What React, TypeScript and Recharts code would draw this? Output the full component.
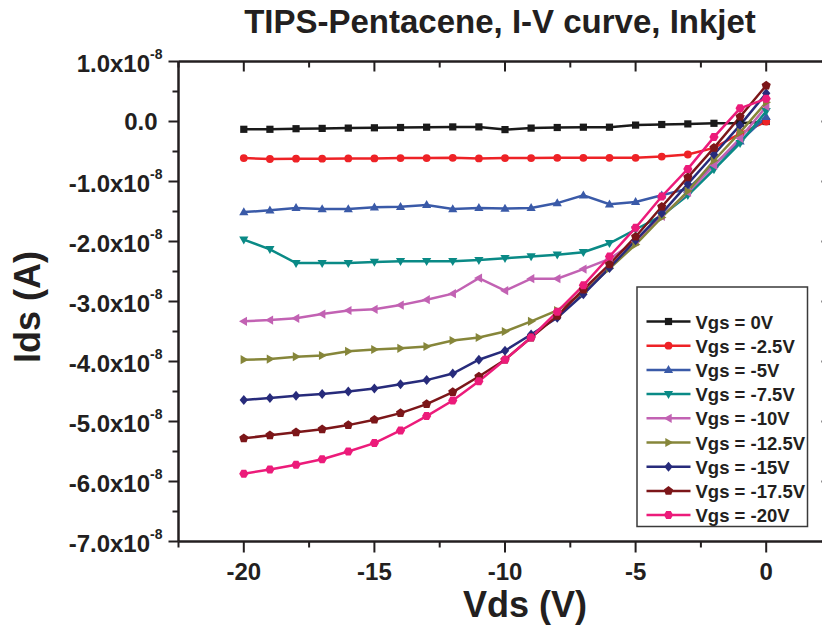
import { LineChart, Line, XAxis, YAxis, Legend, ReferenceLine } from "recharts";

// Vds sweep (V)
const vdsValues = [-20, -19, -18, -17, -16, -15, -14, -13, -12, -11, -10, -9, -8, -7, -6, -5, -4, -3, -2, -1, 0];

// Ids in units of 1e-8 A, one list per gate voltage
const ids0V = [-0.13, -0.13, -0.12, -0.115, -0.11, -0.105, -0.1, -0.095, -0.09, -0.09, -0.135, -0.11, -0.1, -0.095, -0.095, -0.06, -0.05, -0.04, -0.03, -0.03, 0.0];
const ids2p5V = [-0.61, -0.625, -0.62, -0.62, -0.615, -0.615, -0.61, -0.61, -0.605, -0.615, -0.61, -0.61, -0.605, -0.605, -0.605, -0.605, -0.585, -0.55, -0.44, -0.2, 0.0];
const ids5V = [-1.51, -1.48, -1.44, -1.46, -1.46, -1.43, -1.42, -1.39, -1.46, -1.44, -1.45, -1.44, -1.36, -1.23, -1.38, -1.34, -1.23, -1.12, -0.72, -0.33, 0.08];
const ids7p5V = [-1.97, -2.13, -2.36, -2.36, -2.36, -2.34, -2.33, -2.33, -2.33, -2.31, -2.28, -2.25, -2.22, -2.18, -2.03, -1.8, -1.57, -1.23, -0.8, -0.36, 0.17];
const ids10V = [-3.33, -3.31, -3.28, -3.21, -3.15, -3.13, -3.06, -2.97, -2.87, -2.61, -2.82, -2.62, -2.62, -2.46, -2.29, -2.0, -1.58, -1.18, -0.73, -0.28, 0.25];
const ids12p5V = [-3.97, -3.96, -3.92, -3.9, -3.83, -3.8, -3.78, -3.75, -3.65, -3.6, -3.5, -3.33, -3.15, -2.85, -2.45, -2.05, -1.6, -1.16, -0.65, -0.18, 0.32];
const ids15V = [-4.64, -4.61, -4.57, -4.54, -4.5, -4.45, -4.38, -4.31, -4.2, -3.97, -3.82, -3.55, -3.27, -2.88, -2.44, -1.98, -1.53, -1.04, -0.55, -0.06, 0.47];
const ids17p5V = [-5.28, -5.23, -5.18, -5.13, -5.06, -4.97, -4.86, -4.71, -4.51, -4.25, -3.97, -3.6, -3.24, -2.8, -2.38, -1.92, -1.42, -0.93, -0.44, 0.08, 0.6];
const ids20V = [-5.87, -5.8, -5.72, -5.63, -5.5, -5.36, -5.15, -4.91, -4.65, -4.33, -3.97, -3.6, -3.17, -2.73, -2.25, -1.77, -1.25, -0.79, -0.26, 0.22, 0.38];

const seriesNames = ["Vgs = 0V", "Vgs = -2.5V", "Vgs = -5V", "Vgs = -7.5V", "Vgs = -10V", "Vgs = -12.5V", "Vgs = -15V", "Vgs = -17.5V", "Vgs = -20V"];
const seriesValues = [ids0V, ids2p5V, ids5V, ids7p5V, ids10V, ids12p5V, ids15V, ids17p5V, ids20V];

const xTicks = [-22.5, -20, -17.5, -15, -12.5, -10, -7.5, -5, -2.5, 0, 2.5];
const yTicks = [-7, -6.5, -6, -5.5, -5, -4.5, -4, -3.5, -3, -2.5, -2, -1.5, -1, -0.5, 0, 0.5, 1];

const title = "TIPS-Pentacene, I-V curve, Inkjet";
const xTitle = "Vds (V)";
const yTitle = "Ids (A)";

// styling
const colors = ["#1a1a1a", "#ee2226", "#3a5aa8", "#0a8a86", "#c262b3", "#86863a", "#272b7b", "#7c1619", "#ec1b7a"];
const shapes = ["square", "circle", "up", "down", "left", "right", "diamond", "pentagon", "hexagon"];
const FONT = "'Liberation Sans', Arial, Helvetica, sans-serif";
const INK = "#231f20";
const CHART_W = 850;
const PLOT_TOP = 61.5;
const PLOT_RIGHT = 831.5;

const rows = vdsValues.map((v, i) => {
  const row: Record<string, number> = { vds: v };
  seriesValues.forEach((vals, s) => {
    row["s" + s] = vals[i];
  });
  return row;
});

function poly(cx: number, cy: number, r: number, n: number, start: number) {
  const pts: string[] = [];
  for (let k = 0; k < n; k++) {
    const a = start + (k * 2 * Math.PI) / n;
    pts.push(`${cx + r * Math.cos(a)},${cy + r * Math.sin(a)}`);
  }
  return pts.join(" ");
}

function Marker({ cx, cy, shape, color }: { cx: number; cy: number; shape: string; color: string }) {
  if (cx == null || cy == null) return null;
  switch (shape) {
    case "square":
      return <rect x={cx - 3.6} y={cy - 3.6} width={7.2} height={7.2} fill={color} />;
    case "circle":
      return <circle cx={cx} cy={cy} r={3.9} fill={color} />;
    case "up":
      return <polygon points={`${cx},${cy - 4.8} ${cx + 4.6},${cy + 3.2} ${cx - 4.6},${cy + 3.2}`} fill={color} />;
    case "down":
      return <polygon points={`${cx},${cy + 4.8} ${cx + 4.6},${cy - 3.2} ${cx - 4.6},${cy - 3.2}`} fill={color} />;
    case "left":
      return <polygon points={`${cx - 4.8},${cy} ${cx + 3.2},${cy - 4.6} ${cx + 3.2},${cy + 4.6}`} fill={color} />;
    case "right":
      return <polygon points={`${cx + 4.8},${cy} ${cx - 3.2},${cy - 4.6} ${cx - 3.2},${cy + 4.6}`} fill={color} />;
    case "diamond":
      return <polygon points={`${cx},${cy - 5} ${cx + 4.2},${cy} ${cx},${cy + 5} ${cx - 4.2},${cy}`} fill={color} />;
    case "pentagon":
      return <polygon points={poly(cx, cy, 4.8, 5, -Math.PI / 2)} fill={color} />;
    default:
      return <polygon points={poly(cx, cy, 4.6, 6, 0)} fill={color} />;
  }
}

const isMajorX = (v: number) => Math.abs(v % 5) < 1e-9;
const isMajorY = (v: number) => Math.abs(v % 1) < 1e-9;

// bottom ticks also mirror a short inward tick on the top frame
function BottomTick(props: any) {
  const { x, y, payload } = props;
  const v = payload.value;
  const major = isMajorX(v);
  return (
    <g>
      <line x1={x} x2={x} y1={y} y2={y + (major ? 11 : 6)} stroke={INK} strokeWidth={2} />
      <line x1={x} x2={x} y1={PLOT_TOP} y2={PLOT_TOP + (major ? 10 : 6)} stroke={INK} strokeWidth={2} />
      {major && (
        <text x={x} y={y + 38} textAnchor="middle" fontSize={24} fontWeight="bold" fontFamily={FONT} fill={INK}>
          {String(v)}
        </text>
      )}
    </g>
  );
}

// left ticks also mirror an inward tick on the right frame
function LeftTick(props: any) {
  const { x, y, payload } = props;
  const v = payload.value;
  const major = isMajorY(v);
  let label = null;
  if (major) {
    label =
      v === 0 ? (
        <text x={x - 21} y={y + 8} textAnchor="end" fontSize={24} fontWeight="bold" fontFamily={FONT} fill={INK}>
          0.0
        </text>
      ) : (
        <text x={x - 16} y={y + 10.5} textAnchor="end" fontSize={24} fontWeight="bold" fontFamily={FONT} fill={INK}>
          {v.toFixed(1) + "x10"}
          <tspan fontSize={14} dy={-13}>
            -8
          </tspan>
        </text>
      );
  }
  return (
    <g>
      <line x1={x} x2={x - (major ? 10 : 6)} y1={y} y2={y} stroke={INK} strokeWidth={2} />
      <line x1={PLOT_RIGHT} x2={PLOT_RIGHT - (major ? 10 : 6)} y1={y} y2={y} stroke={INK} strokeWidth={2} />
      {label}
    </g>
  );
}

function XTitleLabel() {
  return (
    <text x={525} y={617} textAnchor="middle" fontSize={36} fontWeight="bold" fontFamily={FONT} fill={INK}>
      {xTitle}
    </text>
  );
}

function YTitleLabel() {
  return (
    <text x={40} y={307} transform="rotate(-90 40 307)" textAnchor="middle" fontSize={36} fontWeight="bold" fontFamily={FONT} fill={INK}>
      {yTitle}
    </text>
  );
}

function LegendBox() {
  const rowH = 24.2;
  return (
    <svg width={173} height={242} style={{ display: "block" }}>
      <rect x={1} y={1} width={170.5} height={239.5} fill="#fff" stroke="#3a3a3a" strokeWidth={1.5} />
      {seriesNames.map((name, i) => {
        const cy = 35.5 + i * rowH;
        return (
          <g key={name}>
            <line x1={10.5} x2={54.5} y1={cy} y2={cy} stroke={colors[i]} strokeWidth={2.5} />
            <Marker cx={32.5} cy={cy} shape={shapes[i]} color={colors[i]} />
            <text x={59.5} y={cy + 7} fontSize={18.5} fontWeight="bold" fontFamily={FONT} fill={INK}>
              {name}
            </text>
          </g>
        );
      })}
    </svg>
  );
}

export default function App() {
  return (
    <div style={{ position: "absolute", left: 0, top: 0, width: 822, height: 631, overflow: "hidden", background: "#fff" }}>
      <div
        style={{
          position: "absolute",
          left: 0,
          width: 1000,
          top: 3,
          textAlign: "center",
          fontFamily: FONT,
          fontWeight: "bold",
          fontSize: 33,
          lineHeight: "38px",
          color: INK,
          whiteSpace: "nowrap",
        }}
      >
        {title}
      </div>
      <LineChart width={CHART_W} height={631} data={rows} margin={{ top: PLOT_TOP, right: CHART_W - PLOT_RIGHT, bottom: 0, left: 0 }}>
        <XAxis
          type="number"
          dataKey="vds"
          domain={[-22.5, 2.5]}
          ticks={xTicks}
          interval={0}
          orientation="bottom"
          height={89.5}
          tickSize={0}
          tickMargin={0}
          tickLine={false}
          tick={<BottomTick />}
          axisLine={{ stroke: INK, strokeWidth: 2.5 }}
          allowDataOverflow
          label={<XTitleLabel />}
        />
        <YAxis
          type="number"
          domain={[-7, 1]}
          ticks={yTicks}
          interval={0}
          width={178.5}
          tickSize={0}
          tickMargin={0}
          tickLine={false}
          tick={<LeftTick />}
          axisLine={{ stroke: INK, strokeWidth: 2.5 }}
          allowDataOverflow
          label={<YTitleLabel />}
        />
        <ReferenceLine y={1} stroke={INK} strokeWidth={2.5} />
        <ReferenceLine x={2.5} stroke={INK} strokeWidth={2.5} />
        <Legend
          layout="vertical"
          align="center"
          verticalAlign="middle"
          content={() => <LegendBox />}
          wrapperStyle={{ left: 636, top: 286, width: 173, height: 242 }}
        />
        {seriesNames.map((name, s) => (
          <Line
            key={name}
            type="linear"
            dataKey={"s" + s}
            name={name}
            stroke={colors[s]}
            strokeWidth={2.5}
            dot={(p: any) => <Marker key={`${s}-${p.index}`} cx={p.cx} cy={p.cy} shape={shapes[s]} color={colors[s]} />}
            activeDot={false}
            isAnimationActive={false}
          />
        ))}
      </LineChart>
    </div>
  );
}
